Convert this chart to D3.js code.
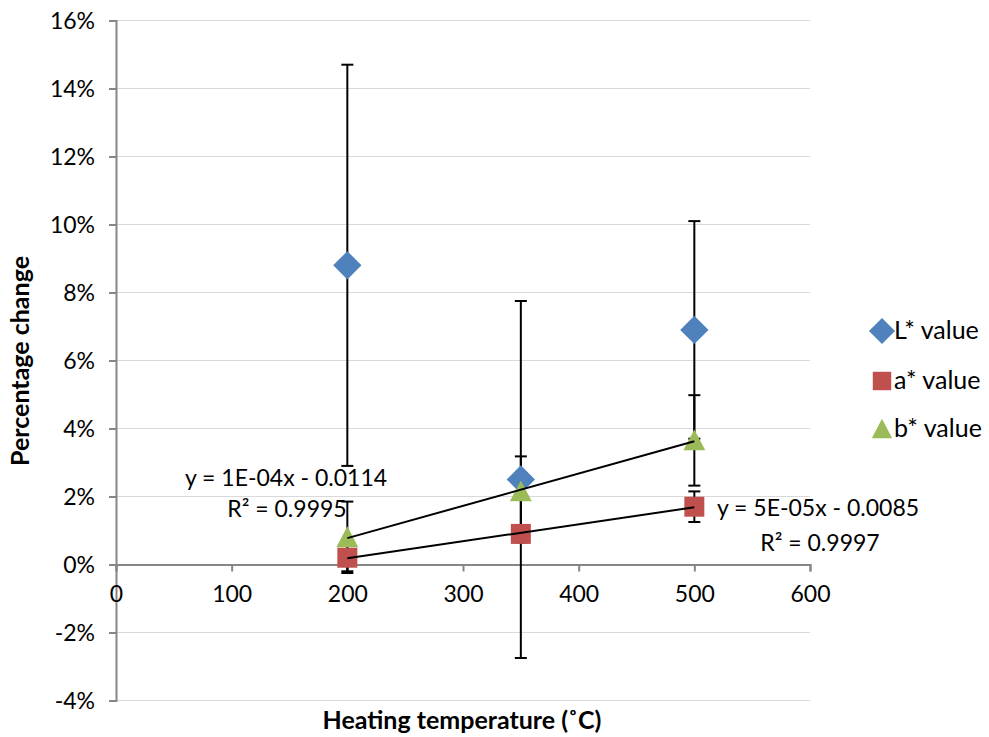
<!DOCTYPE html>
<html><head><meta charset="utf-8">
<script src="https://cdn.jsdelivr.net/npm/d3@7"></script>
<style>body{margin:0;background:#fff;} text{font-family:Lato,"Open Sans",sans-serif;}</style>
</head><body><svg id="c" width="989" height="737"></svg>
<script>
const temps = [200, 350, 500];
const seriesNames = ["L* value", "a* value", "b* value"];
const lValues = [8.8, 2.5, 6.9];
const lErrors = [5.9, 5.25, 3.2];
const aValues = [0.2, 0.9, 1.7];
const aErrors = [0.4, 0.25, 0.45];
const bValues = [0.8, 2.15, 3.65];
const bErrors = [1.05, 1.03, 1.33];
const colors = ["#4f81bd", "#c0504d", "#9bbb59"];
const xTicks = [0, 100, 200, 300, 400, 500, 600];
const yTicks = [-4, -2, 0, 2, 4, 6, 8, 10, 12, 14, 16];
const trendLabels = [["y = 1E-04x - 0.0114", "R² = 0.9995"], ["y = 5E-05x - 0.0085", "R² = 0.9997"]];

const svg = d3.select("#c");
const x = d3.scaleLinear().domain([0, 600]).range([116, 810]);
const y = d3.scaleLinear().domain([-4, 16]).range([700.5, 20.5]);

const diamond = {draw(ctx, size) { const r = Math.sqrt(size / 2); ctx.moveTo(0, -r); ctx.lineTo(r, 0); ctx.lineTo(0, r); ctx.lineTo(-r, 0); ctx.closePath(); }};
const tri = {draw(ctx, size) { const h = Math.sqrt(size * 0.9); const w = h * 1.1; ctx.moveTo(0, -h / 2 - 1); ctx.lineTo(w / 2, h / 2); ctx.lineTo(-w / 2, h / 2); ctx.closePath(); }};

svg.append("g").selectAll("line").data(yTicks.filter(d => d !== 0)).join("line")
  .attr("x1", x(0)).attr("x2", x(600)).attr("y1", d => y(d)).attr("y2", d => y(d))
  .attr("stroke", "#d9d9d9").attr("stroke-width", 1);

const yAxis = svg.append("g").attr("transform", `translate(${x(0)},0)`)
  .call(d3.axisLeft(y).tickValues(yTicks).tickFormat(d => d + "%").tickSize(7).tickPadding(14));
const xAxis = svg.append("g").attr("transform", `translate(0,${y(0)})`)
  .call(d3.axisBottom(x).tickValues(xTicks).tickSize(7).tickPadding(14));
[yAxis, xAxis].forEach(g => {
  g.select(".domain").attr("stroke", "#868686").attr("stroke-width", 2);
  g.selectAll(".tick line").attr("stroke", "#868686").attr("stroke-width", 2);
  g.selectAll(".tick text").attr("font-size", 23).attr("fill", "#000").attr("font-family", "Lato");
});
yAxis.selectAll(".tick text").attr("dy", "0.36em");

const series = [
  {name: seriesNames[0], vals: lValues, errs: lErrors, color: colors[0], shape: diamond, size: 400},
  {name: seriesNames[1], vals: aValues, errs: aErrors, color: colors[1], shape: d3.symbolSquare, size: 400},
  {name: seriesNames[2], vals: bValues, errs: bErrors, color: colors[2], shape: tri, size: 440}
];

series.forEach(s => {
  const g = svg.append("g").attr("stroke", "#000").attr("stroke-width", 2);
  temps.forEach((t, i) => {
    const hi = s.vals[i] + s.errs[i], lo = s.vals[i] - s.errs[i];
    g.append("line").attr("x1", x(t)).attr("x2", x(t)).attr("y1", y(hi)).attr("y2", y(lo));
    [hi, lo].forEach(v => g.append("line").attr("x1", x(t) - 6).attr("x2", x(t) + 6).attr("y1", y(v)).attr("y2", y(v)));
  });
});

series.forEach(s => {
  svg.append("g").selectAll("path").data(temps).join("path")
    .attr("d", d3.symbol().type(s.shape).size(s.size))
    .attr("transform", (t, i) => `translate(${x(t)},${y(s.vals[i])})`)
    .attr("fill", s.color);
});

function fit(xs, ys) {
  const mx = d3.mean(xs), my = d3.mean(ys);
  const m = d3.sum(xs, (v, i) => (v - mx) * (ys[i] - my)) / d3.sum(xs, v => (v - mx) ** 2);
  return {m, b: my - m * mx};
}
[bValues, aValues].forEach(vals => {
  const f = fit(temps, vals);
  const x0 = d3.min(temps), x1 = d3.max(temps);
  svg.append("line").attr("x1", x(x0)).attr("x2", x(x1))
    .attr("y1", y(f.m * x0 + f.b)).attr("y2", y(f.m * x1 + f.b))
    .attr("stroke", "#000").attr("stroke-width", 2);
});

const lbl = svg.append("g").attr("font-size", 23).attr("fill", "#000").attr("text-anchor", "middle");
lbl.append("text").attr("x", 286).attr("y", 486).text(trendLabels[0][0]);
lbl.append("text").attr("x", 287).attr("y", 517).text(trendLabels[0][1]);
lbl.append("text").attr("x", 818).attr("y", 516).text(trendLabels[1][0]);
lbl.append("text").attr("x", 820).attr("y", 551).text(trendLabels[1][1]);

const legY = [331, 381, 429];
series.forEach((s, k) => {
  svg.append("path").attr("d", d3.symbol().type(s.shape).size(k === 2 ? 380 : 340))
    .attr("transform", `translate(882,${legY[k]})`).attr("fill", s.color);
  svg.append("text").attr("x", 894).attr("y", legY[k] + 8).attr("font-size", 25).text(s.name);
});

svg.append("text").attr("x", 462).attr("y", 729).attr("text-anchor", "middle")
  .attr("font-size", 25).attr("font-weight", "bold").text("Heating temperature (˚C)");
svg.append("text").attr("transform", "translate(29,361) rotate(-90)").attr("text-anchor", "middle")
  .attr("font-size", 25).attr("font-weight", "bold").text("Percentage change");
</script></body></html>
